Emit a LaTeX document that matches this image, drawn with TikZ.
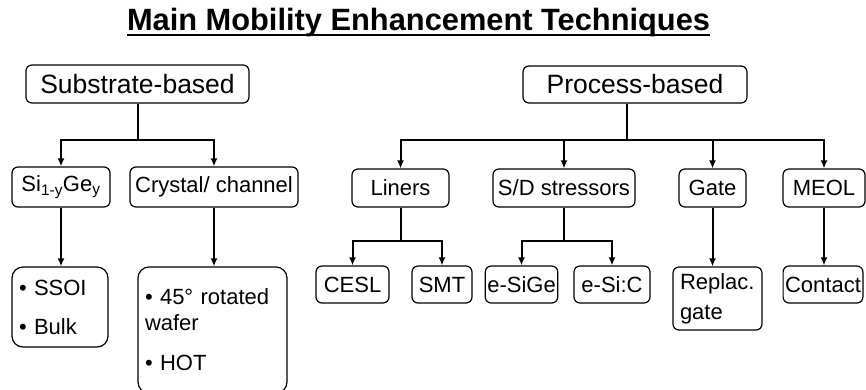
\documentclass[tikz,border=0pt]{standalone}
\usepackage{fontspec}
\setmainfont{Liberation Sans}
\usetikzlibrary{arrows.meta}
\newcommand{\ulinetext}[1]{\setbox0=\hbox{#1}\rlap{\rule[-5.9pt]{\wd0}{2.4pt}}\box0}
\tikzset{
  box/.style={
    % The shape:
    rectangle,
    rounded corners=6pt,
    % The border:
    draw=black,
    line width=1.2pt,
    % Font
    font=\fontsize{22}{26}\selectfont,
    % padding around text
    inner sep=2pt
  },
  topbox/.style={box, font=\fontsize{26.5}{30}\selectfont},
  listbox/.style={box, rounded corners=11pt, align=left, inner xsep=7pt},
  link/.style={line width=2pt},
  arrow/.style={link, -{Latex[length=8pt,width=7pt]}}
}

\begin{document}
\begin{tikzpicture}[x=1pt, y=-1pt]

  \useasboundingbox (0,0) rectangle (866,389);

  \node (title) at (418.5, 30) [anchor=base, font=\bfseries\fontsize{30.8}{36}\selectfont] {\ulinetext{Main Mobility Enhancement Techniques}};

  % first level
  \node (sub) at (137.5, 84) [topbox, minimum width=223pt, minimum height=38pt] {Substrate-based};
  \node (proc) at (635, 84.5) [topbox, minimum width=224pt, minimum height=37pt] {Process-based};

  % second level
  \node (sige) at (61, 187) [box, minimum width=98pt, minimum height=40pt] {Si\textsubscript{1-y}Ge\textsubscript{y}};
  \node (crys) at (214, 187) [box, minimum width=168pt, minimum height=40pt] {Crystal/ channel};
  \node (liners) at (400.5, 188) [box, minimum width=97pt, minimum height=38pt] {Liners};
  \node (sd) at (564, 188) [box, minimum width=142pt, minimum height=38pt] {S/D stressors};
  \node (gate) at (712.5, 188) [box, minimum width=67pt, minimum height=38pt] {Gate};
  \node (meol) at (824, 188) [box, minimum width=82pt, minimum height=38pt] {MEOL};

  % third level
  \node (ssoi) at (60, 307) [listbox, text width=82pt, minimum height=80pt] {\textbullet\ SSOI\\[13pt]\textbullet\ Bulk};
  \node (hot) at (212.5, 330) [listbox, text width=135pt, minimum height=126pt] {\textbullet\ 45° rotated\\wafer\\[14pt]\textbullet\ HOT};
  \node (cesl) at (352.5, 284.5) [box, minimum width=73pt, minimum height=37pt] {CESL};
  \node (smt) at (442, 284.5) [box, minimum width=60pt, minimum height=37pt] {SMT};
  \node (esige) at (521.5, 284.5) [box, minimum width=71pt, minimum height=37pt] {e-SiGe};
  \node (esic) at (612, 284.5) [box, minimum width=76pt, minimum height=37pt] {e-Si:C};
  \node (repl) at (717.5, 298.5) [box, align=left, inner xsep=7pt, text width=75pt, minimum height=63pt] {Replac.\\[4pt]gate};
  \node (contact) at (823, 284.5) [box, minimum width=78pt, minimum height=37pt] {Contact};

  % substrate tree
  \draw[link] (sub.south) to ++(0, 36) coordinate (sub bus);
  \draw[arrow] (sub bus) -| (sige.north);
  \draw[arrow] (sub bus) -| (crys.north);
  \draw[arrow] (sige.south) to (sige.south |- ssoi.north);
  \draw[arrow] (crys.south) to (crys.south |- hot.north);

  % process tree
  \draw[link] ([xshift=-8pt]proc.south) to ++(0, 36) coordinate (proc bus);
  \draw[arrow] (proc bus) -| (liners.north);
  \draw[arrow] (proc bus) -| (sd.north);
  \draw[arrow] (proc bus) -| (gate.north);
  \draw[arrow] (proc bus) -| (meol.north);

  \draw[link] (liners.south) to ++(0, 33) coordinate (liners bus);
  \draw[arrow] (liners bus) -| (cesl.north);
  \draw[arrow] (liners bus) -| (smt.north);

  \draw[link] (sd.south) to ++(0, 33) coordinate (sd bus);
  \draw[arrow] (sd bus) -| (esige.north);
  \draw[arrow] (sd bus) -| (esic.north);

  \draw[arrow] (gate.south) to (gate.south |- repl.north);
  \draw[arrow] (meol.south) to (meol.south |- contact.north);

\end{tikzpicture}
\end{document}
